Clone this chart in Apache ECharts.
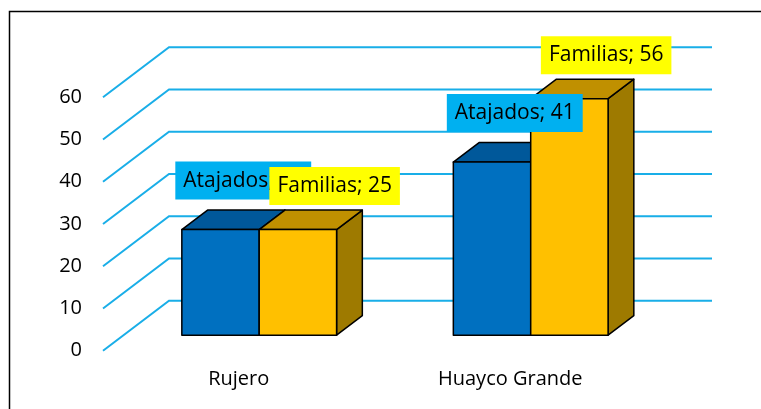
<!DOCTYPE html>
<html>
<head>
<meta charset="utf-8">
<script src="https://cdn.jsdelivr.net/npm/echarts@6/dist/echarts.min.js"></script>
<style>
    html, body { margin: 0; padding: 0; background: #fff; }
    #chart { width: 761px; height: 409px; }
</style>
</head>
<body>
<div id="chart"></div>
<script>
    // datos del grafico
    var categories = ['Rujero', 'Huayco Grande'];
    var seriesNames = ['Atajados', 'Familias'];
    var atajados = [25, 41];
    var familias = [25, 56];
    var yTicks = [0, 10, 20, 30, 40, 50, 60];

    // estilo 3D
    var DX = 66, DY = -50;          // profundidad completa (pared del fondo)
    var D0 = 0.31, D1 = 0.70;       // cara frontal / trasera de las barras
    var BAR = 0.285;                // ancho de cada barra respecto a la banda
    var faces = [
        { front: '#0070C0', top: '#00589A', side: '#004A80' },
        { front: '#FFC000', top: '#C09000', side: '#9E7A00' }
    ];
    var labelBg = ['#00B0F0', '#FFFF00'];
    var labelShift = [[-3, 10.5], [11, 5]];  // dx, separacion arriba

    function barGeom(api, si, ci, v) {
        var bw = api.size([1, 0])[0];
        var w = bw * BAR;
        var base = api.coord([ci, 0]);
        var top = api.coord([ci, v]);
        var xl = base[0] + D0 * DX - w + si * w;
        var xr = xl + w;
        var yb = base[1] + D0 * DY;
        var yt = top[1] + D0 * DY;
        return { xl: xl, xr: xr, yb: yb, yt: yt, ddx: (D1 - D0) * DX, ddy: (D1 - D0) * DY };
    }

    function barSeries(si, values) {
        return {
            type: 'custom',
            name: seriesNames[si],
            z: 2,
            data: values.map(function (v, i) { return [i, v]; }),
            renderItem: function (params, api) {
                var g = barGeom(api, si, api.value(0), api.value(1));
                var st = { stroke: '#000', lineWidth: 1.5, lineJoin: 'round' };
                return {
                    type: 'group',
                    children: [
                        { type: 'polygon', shape: { points: [[g.xr, g.yt], [g.xr + g.ddx, g.yt + g.ddy], [g.xr + g.ddx, g.yb + g.ddy], [g.xr, g.yb]] },
                          style: Object.assign({ fill: faces[si].side }, st) },
                        { type: 'polygon', shape: { points: [[g.xl, g.yt], [g.xr, g.yt], [g.xr + g.ddx, g.yt + g.ddy], [g.xl + g.ddx, g.yt + g.ddy]] },
                          style: Object.assign({ fill: faces[si].top }, st) },
                        { type: 'rect', shape: { x: g.xl, y: g.yt, width: g.xr - g.xl, height: g.yb - g.yt },
                          style: Object.assign({ fill: faces[si].front }, st) }
                    ]
                };
            }
        };
    }

    function labelSeries(si, values) {
        return {
            type: 'custom',
            z: 5,
            silent: true,
            data: values.map(function (v, i) { return [i, v]; }),
            renderItem: function (params, api) {
                var v = api.value(1);
                var g = barGeom(api, si, api.value(0), v);
                return {
                    type: 'text',
                    style: {
                        x: (g.xl + g.xr) / 2 + g.ddx + labelShift[si][0],
                        y: g.yt + g.ddy - labelShift[si][1],
                        text: seriesNames[si] + '; ' + v,
                        fill: '#000',
                        font: '21px "Open Sans"',
                        lineHeight: 22,
                        align: 'center',
                        verticalAlign: 'bottom',
                        backgroundColor: labelBg[si],
                        padding: [8, 8]
                    }
                };
            }
        };
    }

    var gridSeries = {
        type: 'custom',
        z: 1,
        silent: true,
        data: yTicks.map(function (t) { return [0, t]; }),
        renderItem: function (params, api) {
            var cs = params.coordSys;
            var y = api.coord([0, api.value(1)])[1];
            return {
                type: 'polyline',
                shape: { points: [[cs.x, y], [cs.x + DX, y + DY], [cs.x + cs.width + DX, y + DY]] },
                style: { stroke: '#19AEE8', lineWidth: 2, fill: null }
            };
        }
    };

    var option = {
        animation: false,
        backgroundColor: '#fff',
        grid: { left: 103, right: 115, top: 97.3, bottom: 58.3 },
        graphic: [{
            type: 'rect',
            shape: { x: 9.5, y: 11.5, width: 900, height: 600 },
            style: { fill: null, stroke: '#000', lineWidth: 1.5 },
            z: 0
        }],
        xAxis: {
            type: 'category',
            data: categories,
            axisLine: { show: false },
            axisTick: { show: false },
            splitLine: { show: false },
            axisLabel: { color: '#000', fontFamily: 'Open Sans', fontSize: 20, margin: 19 }
        },
        yAxis: {
            type: 'value',
            min: 0,
            max: 60,
            interval: 10,
            axisLine: { show: false },
            axisTick: { show: false },
            splitLine: { show: false },
            axisLabel: { color: '#000', fontFamily: 'Open Sans', fontSize: 20, margin: 21 }
        },
        series: [
            gridSeries,
            barSeries(0, atajados),
            barSeries(1, familias),
            labelSeries(0, atajados),
            labelSeries(1, familias)
        ]
    };

    var chart = echarts.init(document.getElementById('chart'), null, { renderer: 'canvas' });
    chart.setOption(option);
</script>
</body>
</html>
